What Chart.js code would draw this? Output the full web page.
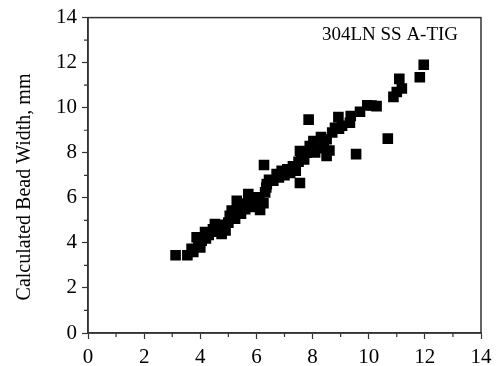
<!DOCTYPE html>
<html>
<head>
<meta charset="utf-8">
<script src="https://cdn.jsdelivr.net/npm/chart.js@4"></script>
<style>
  html, body { margin: 0; padding: 0; background: #fff; }
  #wrap { width: 500px; height: 366px; }
</style>
</head>
<body>
<div id="wrap"><canvas id="canvas-chart"></canvas></div>
<script>
// measured bead width (x) vs calculated bead width (y), mm
var measured = [
    3.12, 3.54, 3.69, 3.75, 3.87, 3.93, 4.00, 4.05, 4.17, 4.20,
    4.30, 4.45, 4.52, 4.60, 4.76, 4.70, 4.85, 4.90, 5.00, 5.05,
    5.12, 5.24, 5.30, 5.35, 5.45, 5.50, 5.60, 5.71, 5.75, 5.85,
    5.90, 6.01, 6.10, 6.13, 6.25, 6.27, 6.31, 6.37, 6.35, 6.45,
    6.60, 6.72, 6.80, 6.90, 7.00, 7.10, 7.20, 7.30, 7.40, 7.50,
    7.55, 7.55, 7.60, 7.70, 7.80, 7.86, 7.90, 8.03, 8.09, 8.20,
    8.30, 8.40, 8.50, 8.50, 8.60, 8.70, 8.80, 8.92, 8.94, 9.05,
    9.33, 9.36, 9.55, 9.69, 9.95, 10.10, 10.28, 10.68, 10.88, 11.00,
    11.09, 11.18, 11.82, 11.96
];
var calculated = [
    3.45, 3.45, 3.74, 3.60, 4.25, 3.96, 3.80, 4.10, 4.48, 4.20,
    4.35, 4.60, 4.84, 4.50, 4.40, 4.75, 4.80, 4.55, 4.90, 5.20,
    5.43, 5.07, 5.87, 5.60, 5.30, 5.75, 5.50, 6.17, 5.85, 5.60,
    6.00, 6.02, 5.80, 5.46, 5.76, 7.46, 6.24, 6.61, 6.46, 6.80,
    6.76, 7.05, 6.90, 7.20, 7.00, 7.27, 7.10, 7.40, 7.20, 7.60,
    6.66, 8.08, 7.85, 7.70, 8.00, 9.47, 8.30, 8.52, 8.01, 8.20,
    8.70, 8.30, 8.60, 7.86, 8.10, 8.90, 9.11, 9.58, 9.07, 9.20,
    9.33, 9.63, 7.94, 9.82, 10.11, 10.10, 10.07, 8.63, 10.48, 10.70,
    11.28, 10.85, 11.35, 11.91
];
var xTicks = [0, 2, 4, 6, 8, 10, 12, 14];
var yTicks = [0, 2, 4, 6, 8, 10, 12, 14];
var yTitle = 'Calculated Bead Width, mm';
var tag = '304LN SS A-TIG';

var points = measured.map(function (x, i) {
    return { x: x, y: calculated[i] };
});

var axisColor = '#333';
var textColor = '#000';
var serif = '"Liberation Serif", "DejaVu Serif", serif';

// box, minor ticks, y title and the text tag
var extras = {
    id: 'extras',
    afterDraw: function (chart) {
        var ctx = chart.ctx;
        var a = chart.chartArea;
        var sx = chart.scales.x;
        var sy = chart.scales.y;
        var i, p;

        ctx.save();
        ctx.strokeStyle = axisColor;
        ctx.lineWidth = 1.5;
        ctx.strokeRect(a.left, a.top, a.right - a.left, a.bottom - a.top);

        ctx.lineWidth = 1.2;
        ctx.beginPath();
        for (i = 1; i < 14; i += 2) {
            p = sx.getPixelForValue(i);
            ctx.moveTo(p, a.bottom);
            ctx.lineTo(p, a.bottom + 4);
            p = sy.getPixelForValue(i);
            ctx.moveTo(a.left, p);
            ctx.lineTo(a.left - 4, p);
        }
        ctx.stroke();

        ctx.fillStyle = textColor;
        ctx.font = '20px ' + serif;
        ctx.textAlign = 'center';
        ctx.textBaseline = 'middle';
        ctx.translate(25, 187);
        ctx.rotate(-Math.PI / 2);
        ctx.fillText(yTitle, 0, 0);
        ctx.restore();

        ctx.save();
        ctx.fillStyle = textColor;
        ctx.font = '19px ' + serif;
        ctx.textAlign = 'center';
        ctx.textBaseline = 'middle';
        ctx.fillText(tag, 390, 35);
        ctx.restore();
    }
};

function fixedTicks(list) {
    return function (scale) {
        scale.ticks = list.map(function (v) { return { value: v }; });
    };
}

new Chart(document.getElementById('canvas-chart'), {
    type: 'scatter',
    data: {
        datasets: [{
            data: points,
            pointStyle: 'rect',
            pointRadius: 7.5,
            pointHoverRadius: 7.5,
            backgroundColor: '#000',
            borderColor: '#000',
            borderWidth: 0
        }]
    },
    options: {
        responsive: true,
        maintainAspectRatio: false,
        animation: false,
        layout: { padding: { left: 0, top: 16, right: 19, bottom: 0 } },
        plugins: {
            legend: { display: false },
            tooltip: { enabled: false }
        },
        scales: {
            x: {
                type: 'linear',
                min: 0,
                max: 14,
                afterBuildTicks: fixedTicks(xTicks),
                afterFit: function (scale) { scale.height = 33; },
                border: { color: axisColor, width: 1.5 },
                grid: { drawOnChartArea: false, tickLength: 6, tickColor: axisColor, tickWidth: 1.2 },
                ticks: { color: textColor, font: { family: serif, size: 21 }, padding: 6, maxRotation: 0 }
            },
            y: {
                type: 'linear',
                min: 0,
                max: 14,
                afterBuildTicks: fixedTicks(yTicks),
                afterFit: function (scale) { scale.width = 88; },
                border: { color: axisColor, width: 1.5 },
                grid: { drawOnChartArea: false, tickLength: 6, tickColor: axisColor, tickWidth: 1.2 },
                ticks: { color: textColor, font: { family: serif, size: 21 }, padding: 5 }
            }
        }
    },
    plugins: [extras]
});
</script>
</body>
</html>
